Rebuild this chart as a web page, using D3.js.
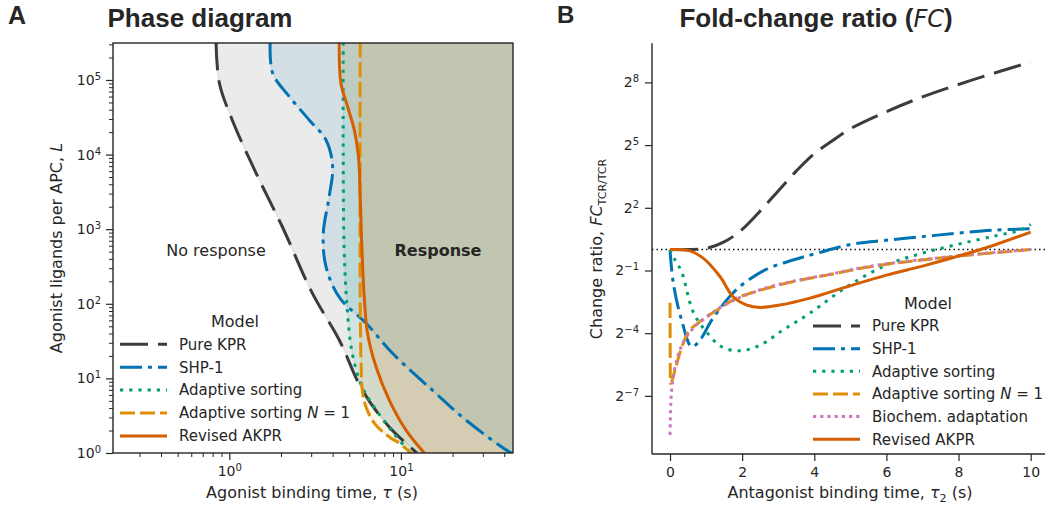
<!DOCTYPE html>
<html>
<head>
<meta charset="utf-8">
<script src="https://cdn.jsdelivr.net/npm/d3@7"></script>
<style>
  body { margin: 0; background: #fff; }
  svg { display: block; }
  text { font-family: "DejaVu Sans", sans-serif; fill: #262626; }
  .ttl { font-family: "Liberation Sans", Arial, sans-serif; font-weight: bold; }
</style>
</head>
<body>
<svg id="fig" width="1045" height="508"></svg>
<script>
// ---------- Panel A: response thresholds, agonist binding time tau (s) vs ligands L ----------
const kprTau = [0.837, 0.875, 1.04, 1.43, 2.04, 3.04, 4.37, 5.95, 8.55, 12.4];
const kprL   = [3.2e5, 9.1e4, 2.91e4, 5670, 1070, 140, 32.7, 7.0, 2.23, 1];

const shpTau = [1.73, 1.79, 2.24, 2.92, 3.66, 4.0, 3.82, 3.53, 3.66, 4.4, 6.25, 8.9, 15.2, 23.9, 42.7, 46];
const shpL   = [3.2e5, 1.23e5, 5.97e4, 2.91e4, 1.57e4, 6880, 2730, 889, 314, 120, 55.3, 21.9, 7.0, 2.77, 1.04, 0.97];

const sortTau = [4.61, 4.61, 4.67, 4.87, 5.2, 5.95, 7.18, 8.9, 11.2, 11.5];
const sortL   = [3.2e5, 1.15e4, 525, 82.6, 21.9, 7.67, 3.77, 1.93, 1.04, 0.98];

const sort1Tau = [5.79, 5.79, 5.87, 5.95, 6.2, 6.99, 8.55, 9.78, 10.9, 11.5];
const sort1L   = [3.2e5, 112, 13.0, 7.0, 4.4, 2.52, 1.64, 1.36, 1.10, 1.0];

const akprTau = [4.37, 4.47, 4.89, 5.35, 5.66, 5.79, 5.9, 6.11, 6.39, 7.15, 8.55, 10.7, 13.7];
const akprL   = [3.2e5, 9.04e4, 4.39e4, 2.14e4, 9380, 2730, 716, 124, 40.3, 14.4, 5.13, 2.03, 1];

const ligandTicks = [1, 10, 100, 1000, 10000, 100000];
const bindingTicks = [1, 10];

// ---------- Panel B: fold-change ratio vs antagonist binding time tau2 (s) ----------
const kprT  = [0, 0.5, 1.0, 1.5, 2, 2.5, 3, 3.5, 4, 4.5, 5, 6, 7, 8, 9, 10];
const kprFC = [1, 1, 1.04, 1.29, 1.95, 3.6, 7.0, 13.5, 24, 37, 55, 97, 158, 239, 350, 501];

const shpT  = [0, 0.09, 0.32, 0.6, 0.83, 1.19, 1.89, 2.69, 3.41, 4.08, 5.05, 6, 7, 8, 9, 10];
const shpFC = [1, 0.33, 0.0968, 0.0398, 0.0497, 0.103, 0.279, 0.525, 0.707, 0.889, 1.197, 1.366, 1.537, 1.729, 1.905, 2.0];

const sortT  = [0, 0.14, 0.32, 0.64, 0.97, 1.43, 1.94, 2.5, 3.13, 3.88, 4.9, 6, 7, 8, 9, 9.7, 10];
const sortFC = [1, 0.707, 0.48, 0.127, 0.0693, 0.0398, 0.0349, 0.0421, 0.0693, 0.1216, 0.291, 0.599, 0.889, 1.197, 1.569, 1.905, 2.297];

const sort1T  = [0, 0.01, 0.14, 0.28, 0.46, 0.83, 1.3, 1.75, 2.5, 3.4, 4.35, 5.3, 6, 7, 8, 9, 10];
const sort1FC = [0.171, 0.0118, 0.0186, 0.0335, 0.0583, 0.0915, 0.134, 0.189, 0.259, 0.344, 0.429, 0.539, 0.616, 0.707, 0.807, 0.901, 1.0];

const bioT  = [0, 0.02, 0.06, 0.1, 0.2, 0.35, 0.6, 1.0, 1.5, 2.0, 2.5, 3.4, 4.4, 5.3, 6, 7, 8, 9, 10];
const bioFC = [0.00214, 0.00592, 0.011, 0.0156, 0.0272, 0.0442, 0.0693, 0.105, 0.159, 0.21, 0.264, 0.349, 0.438, 0.547, 0.624, 0.717, 0.812, 0.908, 1.0];

const akprT  = [0, 0.3, 0.55, 0.92, 1.39, 1.75, 2.13, 2.5, 3.05, 3.88, 4.9, 6, 7, 8, 9, 10];
const akprFC = [1, 1, 0.959, 0.753, 0.406, 0.209, 0.159, 0.147, 0.159, 0.2, 0.291, 0.429, 0.578, 0.807, 1.165, 1.79];

const fcTickExp = [8, 5, 2, -1, -4, -7];
const timeTicks = [0, 2, 4, 6, 8, 10];

// ---------- styles ----------
const INK = "#262626";
const models = {
  kpr:   { name: "Pure KPR",            color: "#3c3c3c", dash: "28,10" },
  shp:   { name: "SHP-1",               color: "#0173b2", dash: "22,6,4,6" },
  sort:  { name: "Adaptive sorting",    color: "#029e73", dash: "3.2,6" },
  sort1: { name: "Adaptive sorting N = 1", color: "#de8f05", dash: "15,5" },
  bio:   { name: "Biochem. adaptation", color: "#cc78bc", dash: "3.2,4" },
  akpr:  { name: "Revised AKPR",        color: "#d55e00", dash: null }
};
const LW = 3;

const svg = d3.select("#fig");
const zip = (a, b) => a.map((v, i) => [v, b[i]]);

function supLabel(sel, base, expOf) {
  sel.each(function (d) {
    const t = d3.select(this);
    t.text(null);
    t.append("tspan").text(base);
    t.append("tspan").attr("dy", "-0.5em").attr("font-size", "10px").text(expOf(d));
  });
}
function styleAxis(g) {
  g.attr("font-family", null).attr("font-size", null);
  g.select(".domain").remove();
  g.selectAll(".tick line").attr("stroke", INK).attr("stroke-width", 1.2);
  g.selectAll(".tick text").attr("fill", INK).attr("font-size", "14px");
}
function legendLabel(text, label) {
  if (label === "Adaptive sorting N = 1") {
    text.append("tspan").text("Adaptive sorting ");
    text.append("tspan").attr("font-style", "italic").text("N");
    text.append("tspan").text(" = 1");
  } else text.text(label);
}
function drawLegend(g, keys, x0, titleY, rowY0, step, titleX) {
  g.append("text").attr("x", titleX).attr("y", titleY + 5.5)
    .attr("text-anchor", "middle").attr("font-size", "16px").text("Model");
  keys.forEach((k, i) => {
    const m = models[k], y = rowY0 + i * step;
    g.append("line").attr("x1", x0).attr("x2", x0 + 47).attr("y1", y).attr("y2", y)
      .attr("stroke", m.color).attr("stroke-width", LW)
      .attr("stroke-dasharray", m.dash);
    const t = g.append("text").attr("x", x0 + 59).attr("y", y + 5.3).attr("font-size", "15px");
    legendLabel(t, m.name);
  });
}

// ================= Panel A =================
const A = { left: 113, right: 513, top: 43, bottom: 453 };
const xA = d3.scaleLog().domain([0.21, 45]).range([A.left, A.right]);
const yA = d3.scaleLog().domain([1, 3.13e5]).range([A.bottom, A.top]);

svg.append("clipPath").attr("id", "clipA").append("rect")
  .attr("x", A.left).attr("y", A.top).attr("width", A.right - A.left).attr("height", A.bottom - A.top);

const gA = svg.append("g");
const plotA = gA.append("g").attr("clip-path", "url(#clipA)");

const boundaries = [
  ["kpr", kprTau, kprL], ["shp", shpTau, shpL], ["sort", sortTau, sortL],
  ["sort1", sort1Tau, sort1L], ["akpr", akprTau, akprL]
];
const smooth = d3.curveCatmullRom.alpha(0.5);
const regionArea = d3.area().curve(smooth)
  .y(d => yA(d[1])).x0(d => xA(d[0])).x1(A.right + 5);
const boundaryLine = d3.line().curve(smooth)
  .x(d => xA(d[0])).y(d => yA(d[1]));

boundaries.forEach(([k, tau, L]) => {
  plotA.append("path").datum(zip(tau, L)).attr("d", regionArea)
    .attr("fill", models[k].color).attr("fill-opacity", 0.1)
    .attr("stroke", models[k].color).attr("stroke-opacity", 0.08).attr("stroke-width", 2);
});
boundaries.forEach(([k, tau, L]) => {
  plotA.append("path").datum(zip(tau, L)).attr("d", boundaryLine)
    .attr("fill", "none").attr("stroke", models[k].color).attr("stroke-width", LW)
    .attr("stroke-dasharray", models[k].dash);
});

gA.append("text").attr("x", 216).attr("y", 256).attr("text-anchor", "middle")
  .attr("font-size", "16px").text("No response");
gA.append("text").attr("x", 438).attr("y", 256).attr("text-anchor", "middle")
  .attr("font-size", "16px").attr("font-weight", "bold").text("Response");

// axes A
const minorA_y = [];
for (let e = 0; e <= 5; e++) for (let m = 2; m <= 9; m++) {
  const v = m * Math.pow(10, e); if (v <= 3.13e5) minorA_y.push(v);
}
const minorA_x = [];
for (let e = -1; e <= 1; e++) for (let m = 2; m <= 9; m++) {
  const v = m * Math.pow(10, e); if (v >= 0.21 && v <= 45) minorA_x.push(v);
}
const yAxA = gA.append("g").attr("transform", `translate(${A.left},0)`)
  .call(d3.axisLeft(yA).tickValues(ligandTicks).tickSize(7).tickPadding(5));
styleAxis(yAxA);
supLabel(yAxA.selectAll(".tick text"), "10", d => Math.round(Math.log10(d)));
const yAxAm = gA.append("g").attr("transform", `translate(${A.left},0)`)
  .call(d3.axisLeft(yA).tickValues(minorA_y).tickSize(4).tickFormat(""));
styleAxis(yAxAm); yAxAm.selectAll("line").attr("stroke-width", 1);

const xAxA = gA.append("g").attr("transform", `translate(0,${A.bottom})`)
  .call(d3.axisBottom(xA).tickValues(bindingTicks).tickSize(7).tickPadding(6));
styleAxis(xAxA);
supLabel(xAxA.selectAll(".tick text"), "10", d => Math.round(Math.log10(d)));
const xAxAm = gA.append("g").attr("transform", `translate(0,${A.bottom})`)
  .call(d3.axisBottom(xA).tickValues(minorA_x).tickSize(4).tickFormat(""));
styleAxis(xAxAm); xAxAm.selectAll("line").attr("stroke-width", 1);

gA.append("rect").attr("x", A.left).attr("y", A.top)
  .attr("width", A.right - A.left).attr("height", A.bottom - A.top)
  .attr("fill", "none").attr("stroke", INK).attr("stroke-width", 1.4);

const xlabA = gA.append("text").attr("x", 312).attr("y", 498).attr("text-anchor", "middle").attr("font-size", "16px");
xlabA.append("tspan").text("Agonist binding time, ");
xlabA.append("tspan").attr("font-style", "italic").text("τ");
xlabA.append("tspan").text(" (s)");
const ylabA = gA.append("text").attr("transform", "translate(62,248) rotate(-90)")
  .attr("text-anchor", "middle").attr("font-size", "16px");
ylabA.append("tspan").text("Agonist ligands per APC, ");
ylabA.append("tspan").attr("font-style", "italic").text("L");

drawLegend(gA, ["kpr", "shp", "sort", "sort1", "akpr"], 120, 321.7, 344.3, 22.9, 235);

svg.append("text").attr("class", "ttl").attr("x", 8).attr("y", 24).attr("font-size", "25px").text("A");
svg.append("text").attr("class", "ttl").attr("x", 200).attr("y", 26.5).attr("text-anchor", "middle")
  .attr("font-size", "26px").text("Phase diagram");

// ================= Panel B =================
const B = { left: 652, right: 1048.7, top: 43.3, bottom: 454 };
const xB = d3.scaleLinear().domain([-0.5, 10.5]).range([B.left, B.right]);
const yB = d3.scaleLog().base(2).domain([Math.pow(2, -9.78), Math.pow(2, 9.87)]).range([B.bottom, B.top]);

svg.append("clipPath").attr("id", "clipB").append("rect")
  .attr("x", B.left).attr("y", B.top - 5).attr("width", B.right - B.left).attr("height", B.bottom - B.top + 5);

const gB = svg.append("g");
const plotB = gB.append("g").attr("clip-path", "url(#clipB)");

plotB.append("line").attr("x1", B.left).attr("x2", B.right).attr("y1", yB(1)).attr("y2", yB(1))
  .attr("stroke", "#111").attr("stroke-width", 1.5).attr("stroke-dasharray", "1.5,3");

const fcSmooth = d3.line().curve(d3.curveCatmullRom.alpha(0.5)).x(d => xB(d[0])).y(d => yB(d[1]));
const fcMono = d3.line().curve(d3.curveMonotoneX).x(d => xB(d[0])).y(d => yB(d[1]));
[["kpr", kprT, kprFC, fcSmooth], ["shp", shpT, shpFC, fcSmooth], ["sort", sortT, sortFC, fcSmooth],
 ["sort1", sort1T, sort1FC, fcMono], ["bio", bioT, bioFC, fcMono], ["akpr", akprT, akprFC, fcSmooth]]
  .forEach(([k, t, fc, gen]) => {
    plotB.append("path").datum(zip(t, fc)).attr("d", gen)
      .attr("fill", "none").attr("stroke", models[k].color).attr("stroke-width", LW)
      .attr("stroke-dasharray", models[k].dash);
  });

const yAxB = gB.append("g").attr("transform", `translate(${B.left},0)`)
  .call(d3.axisLeft(yB).tickValues(fcTickExp.map(e => Math.pow(2, e))).tickSize(7).tickPadding(6));
styleAxis(yAxB);
supLabel(yAxB.selectAll(".tick text"), "2", d => {
  const e = Math.round(Math.log2(d)); return e < 0 ? "−" + (-e) : String(e);
});
const xAxB = gB.append("g").attr("transform", `translate(0,${B.bottom})`)
  .call(d3.axisBottom(xB).tickValues(timeTicks).tickSize(7).tickPadding(6).tickFormat(d3.format("d")));
styleAxis(xAxB);

gB.append("line").attr("x1", B.left).attr("x2", B.left).attr("y1", B.top).attr("y2", B.bottom)
  .attr("stroke", INK).attr("stroke-width", 1.4);
gB.append("line").attr("x1", B.left).attr("x2", B.right).attr("y1", B.bottom).attr("y2", B.bottom)
  .attr("stroke", INK).attr("stroke-width", 1.4);

const xlabB = gB.append("text").attr("x", 850).attr("y", 498).attr("text-anchor", "middle").attr("font-size", "16px");
xlabB.append("tspan").text("Antagonist binding time, ");
xlabB.append("tspan").attr("font-style", "italic").text("τ");
xlabB.append("tspan").attr("font-size", "11px").attr("dy", "4").text("2");
xlabB.append("tspan").attr("dy", "-4").text(" (s)");
const ylabB = gB.append("text").attr("transform", "translate(602,249) rotate(-90)")
  .attr("text-anchor", "middle").attr("font-size", "16px");
ylabB.append("tspan").text("Change ratio, ");
ylabB.append("tspan").attr("font-style", "italic").text("FC");
ylabB.append("tspan").attr("font-size", "11px").attr("dy", "4").text("TCR/TCR");

drawLegend(gB, ["kpr", "shp", "sort", "sort1", "bio", "akpr"], 813, 303, 326, 22.65, 928);

svg.append("text").attr("class", "ttl").attr("x", 557).attr("y", 22.5).attr("font-size", "24px").text("B");
const ttlB = svg.append("text").attr("class", "ttl").attr("x", 816).attr("y", 26.5)
  .attr("text-anchor", "middle").attr("font-size", "26px");
ttlB.append("tspan").text("Fold-change ratio (");
ttlB.append("tspan").attr("font-family", "DejaVu Sans").attr("font-style", "italic")
  .attr("font-weight", "normal").attr("font-size", "24px").text("FC");
ttlB.append("tspan").text(")");
</script>
</body>
</html>
